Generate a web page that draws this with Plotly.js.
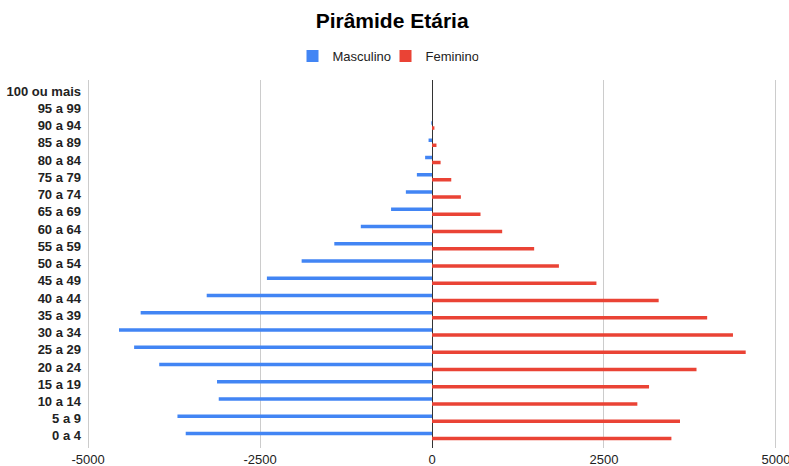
<!DOCTYPE html>
<html>
<head>
<meta charset="utf-8">
<script src="https://cdn.plot.ly/plotly-3.0.1.min.js"></script>
<style>html,body{margin:0;padding:0;background:#fff;}#chart{width:789px;height:466px;}</style>
</head>
<body>
<div id="chart"></div>
<script>
const faixas = ["0 a 4","5 a 9","10 a 14","15 a 19","20 a 24","25 a 29","30 a 34","35 a 39","40 a 44","45 a 49","50 a 54","55 a 59","60 a 64","65 a 69","70 a 74","75 a 79","80 a 84","85 a 89","90 a 94","95 a 99","100 ou mais"];
const masculino = [-3580,-3700,-3100,-3125,-3965,-4330,-4550,-4235,-3275,-2400,-1895,-1420,-1035,-595,-380,-220,-100,-50,-10,0,0];
const feminino = [3480,3605,2985,3155,3845,4560,4375,4000,3295,2390,1845,1485,1020,705,420,280,125,65,35,0,0];
const xTickVals = [-5000,-2500,0,2500,5000];
const xTickText = ["-5000","-2500","0","2500","5000"];

const font = "Liberation Sans, Arial, sans-serif";
const data = [
  {type:'bar', orientation:'h', name:'Feminino', y:faixas, x:feminino, marker:{color:'#ea4335'}, legendrank:2},
  {type:'bar', orientation:'h', name:'Masculino', y:faixas, x:masculino, marker:{color:'#4285f4'}, legendrank:1}
];
const layout = {
  width:789, height:466,
  margin:{l:87, r:12, t:80, b:18},
  paper_bgcolor:'#fff', plot_bgcolor:'#fff',
  font:{family:font, size:12, color:'#222'},
  title:{text:'Pirâmide Etária', font:{family:font, size:21, weight:'bold', color:'#000'}, x:0.497, xanchor:'center', y:1-21/466, yanchor:'middle', yref:'container'},
  barmode:'group', bargap:0.42, bargroupgap:0.3,
  showlegend:true,
  legend:{orientation:'h', x:0.4886, xanchor:'center', xref:'container', y:1-56/466, yanchor:'middle', yref:'container', entrywidth:48, entrywidthmode:'pixels', font:{family:font, size:13, color:'#222'}},
  xaxis:{range:[-5015,5015], tickvals:xTickVals, ticktext:xTickText, showgrid:true, gridcolor:'#cccccc', gridwidth:1,
         zeroline:true, zerolinecolor:'#333333', zerolinewidth:1, showline:false, ticks:'', ticklabeloverflow:'allow',
         tickfont:{family:font, size:13, color:'#222'}, ticklabelstandoff:2, fixedrange:true},
  yaxis:{type:'category', categoryorder:'array', categoryarray:faixas, range:[-0.7,20.64], showgrid:false, zeroline:false, ticks:'', showline:false,
         tickfont:{family:font, size:13, weight:'bold', color:'#222'}, ticklabelstandoff:5, fixedrange:true}
};
Plotly.newPlot('chart', data, layout, {displayModeBar:false, staticPlot:true});
</script>
</body>
</html>
